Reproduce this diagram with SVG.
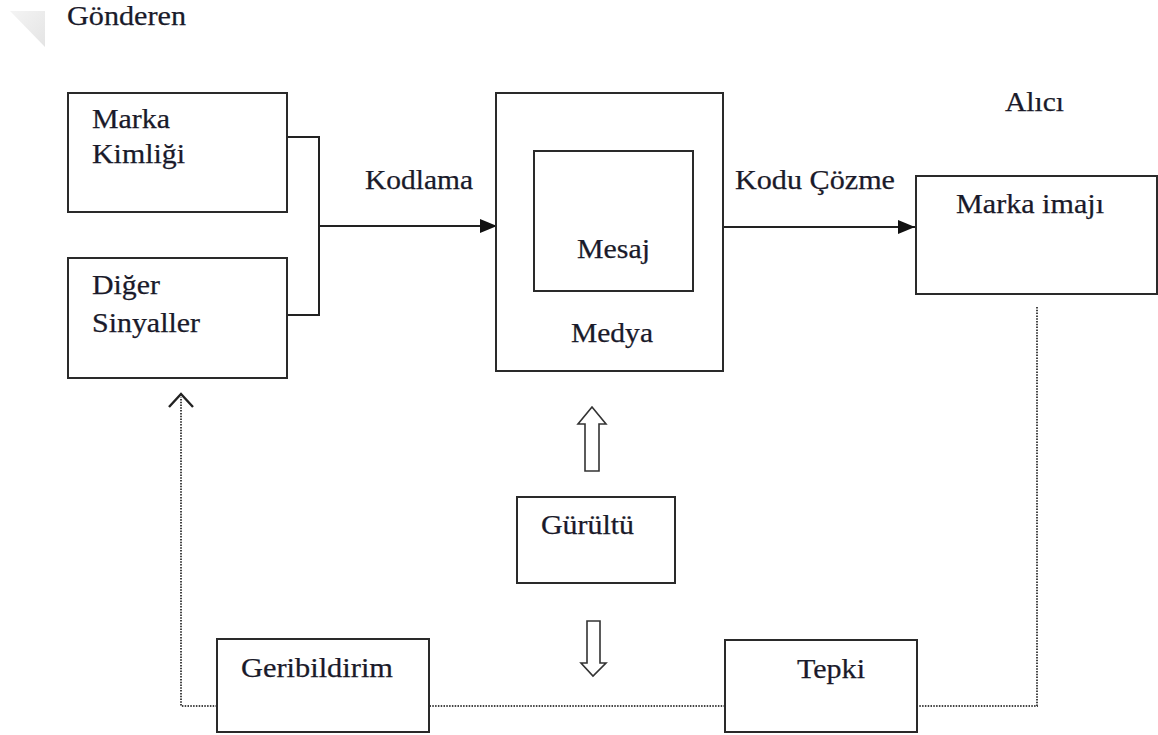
<svg xmlns="http://www.w3.org/2000/svg" width="1158" height="735" viewBox="0 0 1158 735">
<style>
.box{fill:#fff;stroke:#2a2a2a;stroke-width:2}
.t{font-family:"Liberation Serif","Times New Roman",serif;font-size:27.5px;fill:#1a1a2a;stroke:#1a1a2a;stroke-width:0.25}
.ln{fill:none;stroke:#222;stroke-width:2}
.dot{fill:none;stroke:#444;stroke-width:2;stroke-dasharray:1.5 1.3}
.blk{fill:#fff;stroke:#333;stroke-width:1.6}
</style>
<defs>
<marker id="ah" markerWidth="17" markerHeight="14" refX="17" refY="7" orient="auto" markerUnits="userSpaceOnUse">
<path d="M0,0 L17,7 L0,14 Z" fill="#111"/>
</marker>
<linearGradient id="fold" x1="0" y1="0" x2="1" y2="1">
<stop offset="0" stop-color="#f4f4f4"/>
<stop offset="1" stop-color="#e4e4e4"/>
</linearGradient>
</defs>
<rect width="1158" height="735" fill="#fff"/>
<polygon points="10,11 45,11 45,47" fill="url(#fold)"/>
<text class="t" x="67" y="25" textLength="119" lengthAdjust="spacingAndGlyphs">Gönderen</text>
<text class="t" x="1005" y="111" textLength="59" lengthAdjust="spacingAndGlyphs">Alıcı</text>
<g id="connectors">
<path class="ln" d="M287,137 H319 V315 H287"/>
<path class="ln" d="M319,226 H497" marker-end="url(#ah)"/>
<path class="ln" d="M723,227 H915" marker-end="url(#ah)"/>
<text class="t" x="365" y="189" textLength="108" lengthAdjust="spacingAndGlyphs">Kodlama</text>
<text class="t" x="735" y="189" textLength="160" lengthAdjust="spacingAndGlyphs">Kodu Çözme</text>
<path class="dot" d="M1037,307 V706 H917"/>
<path class="dot" d="M725,706 H429"/>
<path class="dot" d="M217,706 H181 V397"/>
<path d="M169,407 L181,394 L193,407" fill="none" stroke="#222" stroke-width="2.4"/>
<path class="blk" d="M592,407 L606,424 L599,424 L599,471 L585,471 L585,424 L578,424 Z"/>
<path class="blk" d="M587,621 L600,621 L600,663 L606,663 L593,676 L581,663 L587,663 Z"/>
</g>
<g id="marka-kimligi">
<rect class="box" x="68" y="93" width="219" height="119"/>
<text class="t" x="92" y="128" textLength="78" lengthAdjust="spacingAndGlyphs">Marka</text>
<text class="t" x="92" y="163" textLength="93" lengthAdjust="spacingAndGlyphs">Kimliği</text>
</g>
<g id="diger-sinyaller">
<rect class="box" x="68" y="258" width="219" height="120"/>
<text class="t" x="92" y="294" textLength="68" lengthAdjust="spacingAndGlyphs">Diğer</text>
<text class="t" x="92" y="332" textLength="108" lengthAdjust="spacingAndGlyphs">Sinyaller</text>
</g>
<g id="medya">
<rect class="box" x="496" y="93" width="227" height="278"/>
<text class="t" x="571" y="342" textLength="82" lengthAdjust="spacingAndGlyphs">Medya</text>
</g>
<g id="mesaj">
<rect class="box" x="534" y="151" width="159" height="140"/>
<text class="t" x="577" y="258" textLength="73" lengthAdjust="spacingAndGlyphs">Mesaj</text>
</g>
<g id="marka-imaji">
<rect class="box" x="916" y="176" width="241" height="118"/>
<text class="t" x="956" y="213" textLength="148" lengthAdjust="spacingAndGlyphs">Marka imajı</text>
</g>
<g id="gurultu">
<rect class="box" x="517" y="497" width="158" height="86"/>
<text class="t" x="541" y="534" textLength="93" lengthAdjust="spacingAndGlyphs">Gürültü</text>
</g>
<g id="geribildirim">
<rect class="box" x="217" y="639" width="212" height="93"/>
<text class="t" x="241" y="677" textLength="152" lengthAdjust="spacingAndGlyphs">Geribildirim</text>
</g>
<g id="tepki">
<rect class="box" x="725" y="640" width="192" height="92"/>
<text class="t" x="797" y="678" textLength="68" lengthAdjust="spacingAndGlyphs">Tepki</text>
</g>
</svg>
